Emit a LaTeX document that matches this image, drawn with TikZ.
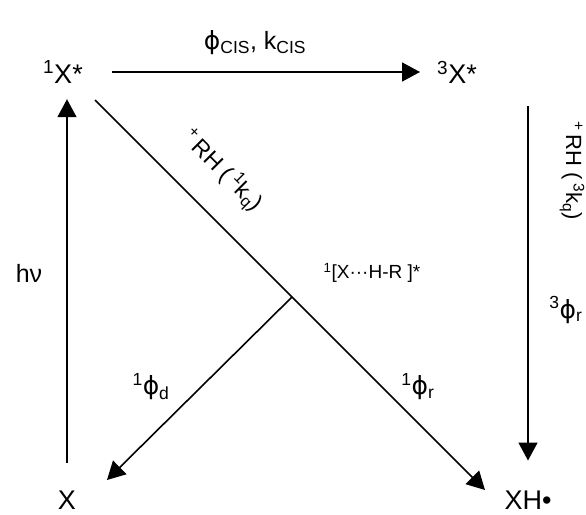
\documentclass[tikz,border=0pt]{standalone}
\usepackage{fontspec}
\setmainfont{Liberation Sans}
\newfontfamily\greekfont{DejaVu Sans}
\usepackage{tikz}
\usetikzlibrary{arrows.meta}
\newcommand{\up}[1]{\textsuperscript{#1}}
\newcommand{\dn}[1]{\textsubscript{#1}}
\newcommand{\ph}{{\greekfont ϕ}}

\begin{document}
\begin{tikzpicture}[
  x=1pt, y=-1pt, >={Triangle[length=18pt,width=19pt]},
  every node/.style={font=\fontsize{27}{31}\selectfont, inner sep=3pt},
  species/.style={anchor=center},
  rate/.style={font=\fontsize{25}{29}\selectfont},
  small/.style={font=\fontsize{22}{26}\selectfont},
  arr/.style={->, line width=1.6pt}
]
  \useasboundingbox (0,0) rectangle (586,514);
  % species
  \node[species] (s1) at (63,72) {\up{1}X*};
  \node[species] (t3) at (457,72) {\up{3}X*};
  \node[species] (x)  at (67,500) {X};
  \node[species] (xh) at (528,500) {XH•};
  \coordinate (dtop) at (95,100);
  \coordinate (dtip) at (485,490);
  \coordinate (br)   at (292,297);
  \coordinate (btip) at (107,480);

  % transitions
  \draw[arr, shorten <=49pt, shorten >=37pt] (s1.center) -- (t3.center);
  \draw[arr, shorten <=25pt, shorten >=13pt] (x.north) -- (x.north |- s1.south);
  \draw[arr, shorten <=20pt, shorten >=27pt] (xh.north |- t3.south) -- (xh.north);
  \draw[arr] (dtop) -- (dtip);
  \draw[arr] (br) -- (btip);

  % labels
  \node[rate] (cis) at (255,43) {\ph\dn{CIS}, k\dn{CIS}};
  \node[rate] (hv) at (29,273) {hν};
  \node[small, font=\fontsize{23}{27}\selectfont, rotate=-45] (q1) at (222,171)
        {\up{+}\,RH (\,\up{1}k\dn{q})};
  \node[small, rotate=-90] (q3) at (572,171) {\up{+}\,RH (\,\up{3}k\dn{q})};
  \node[rate] (r3) at (566,310) {\up{3}\ph\dn{r}};
  \node[small, font=\fontsize{19}{23}\selectfont] (cx) at (372,273) {\up{1}[X···H-R ]*};
  \node[rate] (d1) at (151,387) {\up{1}\ph\dn{d}};
  \node[rate] (r1) at (418,387) {\up{1}\ph\dn{r}};
\end{tikzpicture}
\end{document}
